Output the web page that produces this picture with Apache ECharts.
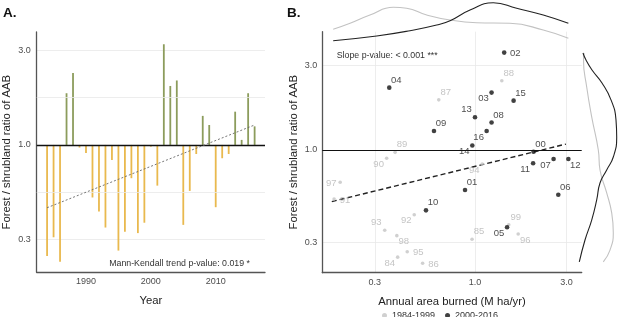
<!DOCTYPE html>
<html><head><meta charset="utf-8">
<script src="https://cdn.jsdelivr.net/npm/echarts@6/dist/echarts.min.js"></script>
<style>html,body{margin:0;padding:0;background:#fff}#c{width:618px;height:317px}</style>
</head><body><div id="c"></div>
<script>
// ---------- Panel A data ----------
const years = [1984,1985,1986,1987,1988,1989,1990,1991,1992,1993,1994,1995,1996,1997,1998,1999,2000,2001,2002,2003,2004,2005,2006,2007,2008,2009,2010,2011,2012,2013,2014,2015,2016];
const ratioA = [0.276,0.343,0.258,1.82,2.30,0.97,0.91,0.544,0.462,0.384,0.84,0.294,0.366,0.68,0.36,0.406,0.98,0.624,3.21,1.98,2.11,0.396,0.587,0.90,1.40,1.26,0.486,0.857,0.90,1.47,1.06,1.82,1.24];
const trendYears = [1984, 2016];
const trendA = [0.483, 1.26];
const yearTicks = [1990, 2000, 2010];
const breaksA = [1/3, 1, 3];
const breakLabelsA = ['0.3', '1.0', '3.0'];

// ---------- Panel B data ----------
const labelsEarly = ['84','85','86','87','88','89','90','91','92','93','94','95','96','97','98','99'];
const aabEarly   = [0.395,0.965,0.533,0.647,1.38,0.383,0.346,0.184,0.482,0.338,1.09,0.443,1.68,0.198,0.391,1.50];
const ratioEarly = [0.248,0.313,0.229,1.92,2.46,0.97,0.898,0.529,0.431,0.352,0.834,0.266,0.335,0.657,0.328,0.378];
const labelsLate = ['00','01','02','03','04','05','06','07','08','09','10','11','12','13','14','15','16'];
const aabLate   = [2.02,0.887,1.42,1.22,0.357,1.47,2.72,2.57,1.22,0.611,0.555,2.01,3.07,1.00,0.968,1.59,1.15];
const ratioLate = [0.978,0.594,3.55,2.11,2.25,0.366,0.559,0.889,1.43,1.28,0.456,0.841,0.889,1.53,1.06,1.90,1.28];
const regX = [0.179, 2.98];
const regY = [0.511, 1.08];
const breaksB = [0.3, 1, 3];
const breakLabelsB = ['0.3', '1.0', '3.0'];

// marginal densities (arbitrary units)
const topXEarly = [0.182,0.223,0.283,0.375,0.44,0.56,0.741,1.02,1.52,2.27,3.07];
const topDEarly = [15.7,21.7,30,37.7,36.7,30,25,22.3,21.7,15,6.7];
const topXLate  = [0.182,0.307,0.458,0.631,0.741,0.942,1.246,1.65,2.27,3.07];
const topDLate  = [4.3,9,14.3,20,24.3,35,42.3,36.7,30,21.7];
const rightYEarly = [3.53,3.22,2.27,1.54,1.0,0.771,0.572,0.441,0.34,0.272,0.233];
const rightDEarly = [6,5.5,8.7,13.7,20.3,22,28.7,33.7,35.3,32,25.3];
const rightYLate  = [3.53,3.22,2.83,2.39,1.92,1.48,1.18,0.913,0.771,0.651,0.522,0.402,0.31,0.233];
const rightDLate  = [5,8,14,24,33,38,38.7,35.3,28.7,22,18.7,13.7,7,1.3];

// label placement (ggrepel-like)
const placeEarly = ['ll','ur','r','ur','ur','ur','ll','r','ll','ul','ll','r','lr','l','lr','ur'];
const placeLate  = ['ur','ur','r','ll','ur','ll','ur','ll','ur','ur','ur','ll','lr','ul','ll','ur','ll'];
const placeOffsets = {ur:[7,-7.5], ul:[-8.5,-7.5], lr:[7,6], ll:[-8,6], r:[11,1], l:[-9,1.5]};

// ---------- styling ----------
const FONT = '"Liberation Sans", Arial, Helvetica, sans-serif';
const GREEN = '#8c9c5c', ORANGE = '#e9b94e';
const GRID_C = '#e8e8e8', AXIS_C = '#555';
const GRAY_PT = '#c4c4c4', GRAY_TXT = '#b5b5b5', BLACK_PT = '#111';

function minorOf(b){ const r=[]; for(let i=0;i<b.length-1;i++) r.push(Math.sqrt(b[i]*b[i+1])); return r; }
function fmtBreak(breaks, labels){ return v => { const i = breaks.findIndex(b => Math.abs(b-v)/b < 1e-6); return i>=0 ? labels[i] : ''; }; }
const minorA = minorOf(breaksA);

const gridA = {left:36.7, top:32, width:228.3, height:240.3};
const gridB = {left:322.3, top:31.7, width:259.4, height:241};
const gridTop = {left:322.3, top:0, width:259.4, height:45};
const gridRight = {left:578, top:31.7, width:40, height:241};

const xMinA = 1982.4, xMaxA = 2017.6;
const yMinA = 0.2286, yMaxA = 3.70;
const xMinB = 0.1597, xMaxB = 3.603;
const yMinB = 0.2026, yMaxB = 4.66;

function ptData(xs, ys, labs, places){
  return xs.map((x,i)=>({value:[x, ys[i]], name:labs[i], label:{offset: placeOffsets[places[i]]}}));
}

const chart = echarts.init(document.getElementById('c'), null, {renderer:'canvas'});
const option = {
  animation:false,
  textStyle:{fontFamily:FONT},
  grid:[gridA, gridB, gridTop, gridRight],
  legend:{
    data:[{name:'1984-1999', icon:'circle'},{name:'2000-2016', icon:'circle'}],
    left:382, top:311, padding:0, itemWidth:5, itemHeight:5, itemGap:10,
    textStyle:{fontSize:9, color:'#333', fontFamily:FONT}
  },
  xAxis:[
    {gridIndex:0, type:'value', min:xMinA, max:xMaxA,
     name:'Year', nameLocation:'middle', nameGap:22.8, nameTextStyle:{fontSize:11.3, color:'#222'},
     axisLine:{onZero:false, lineStyle:{color:AXIS_C, width:1.3}},
     axisTick:{show:false, customValues:yearTicks},
     axisLabel:{customValues:yearTicks, formatter: v => String(v), fontSize:9, color:'#4d4d4d', margin:5},
     splitLine:{show:false}},
    {gridIndex:1, type:'log', min:xMinB, max:xMaxB,
     name:'Annual area burned (M ha/yr)', nameLocation:'middle', nameGap:23.3, nameTextStyle:{fontSize:11.3, color:'#222'},
     axisLine:{onZero:false, lineStyle:{color:AXIS_C, width:1.3}},
     axisTick:{show:false, customValues:breaksB},
     axisLabel:{customValues:breaksB, formatter:fmtBreak(breaksB, breakLabelsB), fontSize:9, color:'#4d4d4d', margin:5},
     splitLine:{show:true, lineStyle:{color:GRID_C, width:0.8}}},
    {gridIndex:2, type:'log', min:xMinB, max:xMaxB, show:false},
    {gridIndex:3, type:'value', min:0, max:40, show:false}
  ],
  yAxis:[
    {gridIndex:0, type:'log', min:yMinA, max:yMaxA,
     name:'Forest / shrubland ratio of AAB', nameLocation:'middle', nameGap:24, nameTextStyle:{fontSize:11.3, color:'#222'},
     axisLine:{onZero:false, lineStyle:{color:AXIS_C, width:1.3}},
     axisTick:{show:false, customValues:breaksA},
     axisLabel:{customValues:breaksA, formatter:fmtBreak(breaksA, breakLabelsA), fontSize:9, color:'#4d4d4d', margin:6},
     splitLine:{show:true, lineStyle:{color:GRID_C, width:0.8}}},
    {gridIndex:1, type:'log', min:yMinB, max:yMaxB,
     name:'Forest / shrubland ratio of AAB', nameLocation:'middle', nameGap:22.5, nameTextStyle:{fontSize:11.3, color:'#222'},
     axisLine:{onZero:false, lineStyle:{color:AXIS_C, width:1.3}},
     axisTick:{show:false, customValues:breaksB},
     axisLabel:{customValues:breaksB, formatter:fmtBreak(breaksB, breakLabelsB), fontSize:9, color:'#4d4d4d', margin:5},
     splitLine:{show:true, lineStyle:{color:GRID_C, width:0.8}}},
    {gridIndex:2, type:'value', min:0, max:45, show:false},
    {gridIndex:3, type:'log', min:yMinB, max:yMaxB, show:false}
  ],
  series:[
    // minor horizontal grid lines of panel A (drawn beneath the bars)
    {type:'line', xAxisIndex:0, yAxisIndex:0, data:[], z:1, silent:true,
     markLine:{silent:true, symbol:'none', label:{show:false},
       lineStyle:{color:GRID_C, width:0.8, type:'solid'}, data: minorA.map(v=>({yAxis:v}))}},
    {type:'bar', xAxisIndex:0, yAxisIndex:0, barWidth:1.8, z:2,
     data: years.map((y,i)=>[y, ratioA[i]]),
     itemStyle:{color: p => p.value[1] >= 1 ? GREEN : ORANGE},
     markLine:{silent:true, symbol:'none', label:{show:false},
       lineStyle:{color:'#111', width:1.4, type:'solid'}, data:[{yAxis:1}]}},
    {type:'line', xAxisIndex:0, yAxisIndex:0, symbol:'none', z:5,
     data: trendYears.map((y,i)=>[y, trendA[i]]),
     lineStyle:{color:'#666', width:0.9, type:[2,2]}},
    {type:'line', xAxisIndex:1, yAxisIndex:1, symbol:'none', z:3,
     data: regX.map((x,i)=>[x, regY[i]]),
     lineStyle:{color:'#222', width:1.4, type:[5,3]},
     markLine:{silent:true, symbol:'none', label:{show:false},
       lineStyle:{color:'#111', width:1.2, type:'solid'}, data:[{yAxis:1}]}},
    {name:'1984-1999', type:'scatter', xAxisIndex:1, yAxisIndex:1, symbolSize:3.6, z:4,
     itemStyle:{color:GRAY_PT},
     label:{show:true, position:'inside', formatter:'{b}', fontSize:9.5, color:GRAY_TXT, fontFamily:FONT},
     data: ptData(aabEarly, ratioEarly, labelsEarly, placeEarly)},
    {name:'2000-2016', type:'scatter', xAxisIndex:1, yAxisIndex:1, symbolSize:4.6, z:4,
     itemStyle:{color:BLACK_PT},
     label:{show:true, position:'inside', formatter:'{b}', fontSize:9.5, color:'#1a1a1a', fontFamily:FONT},
     data: ptData(aabLate, ratioLate, labelsLate, placeLate)},
    {type:'line', xAxisIndex:2, yAxisIndex:2, symbol:'none', smooth:true,
     data: topXEarly.map((x,i)=>[x, topDEarly[i]]), lineStyle:{color:'#c2c2c2', width:1.1}},
    {type:'line', xAxisIndex:2, yAxisIndex:2, symbol:'none', smooth:true,
     data: topXLate.map((x,i)=>[x, topDLate[i]]), lineStyle:{color:'#222', width:1.1}},
    {type:'line', xAxisIndex:3, yAxisIndex:3, symbol:'none', smooth:true,
     data: rightYEarly.map((y,i)=>[rightDEarly[i], y]), lineStyle:{color:'#c2c2c2', width:1.1}},
    {type:'line', xAxisIndex:3, yAxisIndex:3, symbol:'none', smooth:true,
     data: rightYLate.map((y,i)=>[rightDLate[i], y]), lineStyle:{color:'#222', width:1.1}}
  ],
  graphic:[
    {type:'text', left:3, top:6, style:{text:'A.', font:'bold 13.5px '+FONT, fill:'#111'}},
    {type:'text', left:287, top:6, style:{text:'B.', font:'bold 13.5px '+FONT, fill:'#111'}},
    {type:'text', right:368, top:259.5, style:{text:'Mann-Kendall trend p-value: 0.019 *', font:'8.8px '+FONT, fill:'#333'}},
    {type:'text', left:336.7, top:51.5, style:{text:'Slope p-value: < 0.001 ***', font:'8.8px '+FONT, fill:'#333'}}
  ]
};
chart.setOption(option);
</script></body></html>
